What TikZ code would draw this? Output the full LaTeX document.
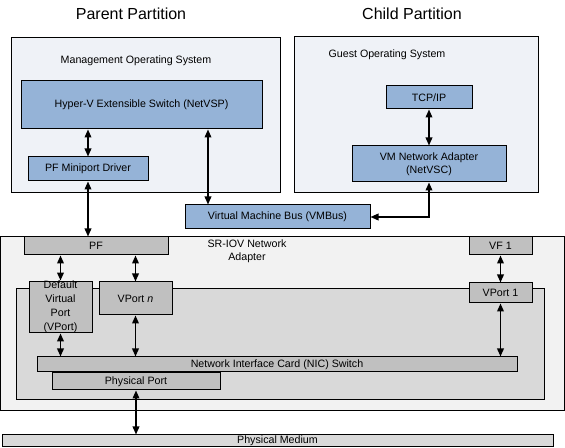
\documentclass[tikz,border=0pt]{standalone}
\usepackage{fontspec}
\setmainfont{Liberation Sans}
\usetikzlibrary{arrows.meta}

\definecolor{osfill}{HTML}{EFF2F7}
\definecolor{vmblue}{HTML}{95B3D7}
\definecolor{portgray}{HTML}{C0C0C0}
\definecolor{adaptergray}{HTML}{F2F2F2}
\definecolor{nicgray}{HTML}{D9D9D9}

\begin{document}
\begin{tikzpicture}[x=0.75pt,y=-0.75pt,
    box/.style={draw,line width=0.75pt,inner sep=0pt,align=center,font=\fontsize{8}{10}\selectfont},
    sz/.style 2 args={minimum width=#1*0.75pt,minimum height=#2*0.75pt},
    bluebox/.style={box,fill=vmblue},
    graybox/.style={box,fill=portgray},
    txt/.style={inner sep=0pt,align=center,font=\fontsize{8}{10}\selectfont},
    title/.style={inner sep=0pt,font=\fontsize{12}{14}\selectfont},
    dbl/.style={{Triangle[length=6pt,width=5pt]}-{Triangle[length=6pt,width=5pt]},line width=1.1pt}]

    \useasboundingbox (0,0) rectangle (565,448);

    % Draw partition titles
    \node[title] (ptitle) at (131,14) {Parent Partition};
    \node[title] (ctitle) at (412,14) {Child Partition};

    % Draw parent partition
    \node[box, fill=osfill, sz={269}{155}] (parent) at (145.5,115.5) {};
    \node[txt] (mos) at (136,61) {Management Operating System};
    \node[bluebox, sz={241}{48}] (hv) at (141.5,105) {Hyper-V Extensible Switch (NetVSP)};
    \node[bluebox, sz={120}{24}] (pfm) at (88,169) {PF Miniport Driver};

    % Draw child partition
    \node[box, fill=osfill, sz={244}{156}] (child) at (416,115) {};
    \node[txt] (gos) at (387,55) {Guest Operating System};
    \node[bluebox, sz={86}{23}] (tcp) at (429,97.5) {TCP/IP};
    \node[bluebox, sz={154}{36}] (vmna) at (429,164) {VM Network Adapter\\(NetVSC)};

    \node[bluebox, sz={185}{24}] (vmbus) at (277.5,217) {Virtual Machine Bus (VMBus)};

    % Draw SR-IOV network adapter
    \node[box, fill=adaptergray, sz={563.5}{174}] (sriov) at (282.25,324) {};
    \node[box, fill=nicgray, sz={528}{111}] (nicarea) at (280,344.5) {};
    \node[txt] (sriovlbl) at (247,251) {SR-IOV Network\\Adapter};
    \node[graybox, sz={144}{18}] (pf) at (96,246) {PF};
    \node[graybox, sz={63}{18}] (vf) at (500.5,246) {VF 1};
    \node[graybox, sz={63}{48}, font=\fontsize{8}{10.5}\selectfont] (dvp) at (60.5,307) {Default\\Virtual\\Port\\(VPort)};
    \node[graybox, sz={73}{33}] (vpn) at (135.5,298.5) {VPort \textit{n}};
    \node[graybox, sz={63}{20}] (vp) at (500.5,293) {VPort 1};
    \node[graybox, sz={480}{15}] (nic) at (277,364.5) {Network Interface Card (NIC) Switch};
    \node[graybox, sz={168}{17}] (pport) at (136,381.5) {Physical Port};

    \node[box, fill=nicgray, sz={551}{12}] (medium) at (277.5,441) {Physical Medium};

    % Draw connections
    \coordinate (busx) at (208,0);
    \draw[dbl] (hv.south -| pfm.north) -- (pfm.north);
    \draw[dbl] (hv.south -| busx) -- (vmbus.north -| busx);
    \draw[dbl] (pfm.south) -- (pf.north -| pfm.south);
    \draw[dbl] (tcp.south) -- (vmna.north);
    \draw[dbl] (vmna.south) |- (vmbus.east);
    \draw[dbl] (pf.south -| dvp.north) -- (dvp.north);
    \draw[dbl] (pf.south -| vpn.north) -- (vpn.north);
    \draw[dbl] (vf.south) -- (vp.north);
    \draw[dbl] (dvp.south) -- (nic.north -| dvp.south);
    \draw[dbl] (vpn.south) -- (nic.north -| vpn.south);
    \draw[dbl] (vp.south) -- (nic.north -| vp.south);
    \draw[dbl] (pport.south) -- (medium.north -| pport.south);

\end{tikzpicture}
\end{document}
